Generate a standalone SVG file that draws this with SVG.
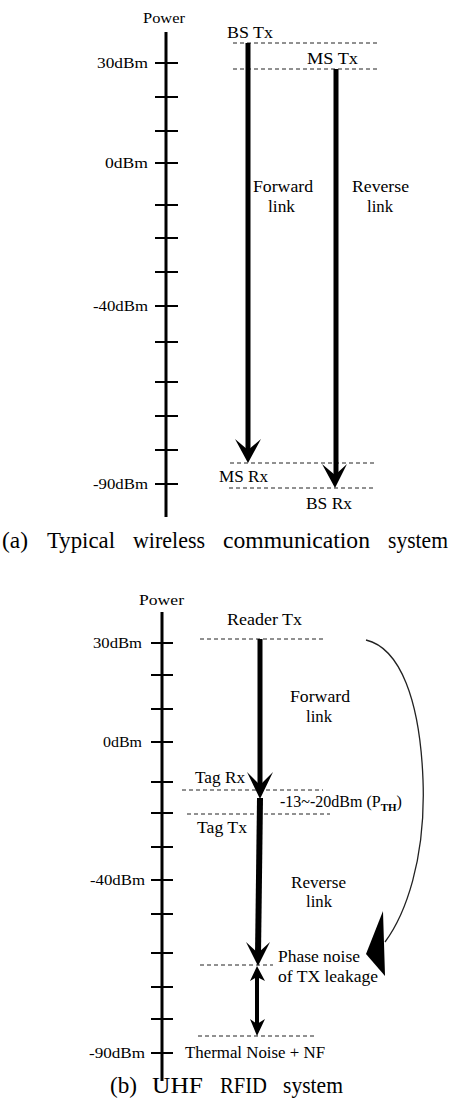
<svg xmlns="http://www.w3.org/2000/svg" width="452" height="1106" viewBox="0 0 452 1106">
<style>
text{font-family:"Liberation Serif","Times New Roman",serif;fill:#000}
.ax{font-size:15px}
.lb{font-size:16px}
.cap{font-size:23px}
.axis{stroke:#000;stroke-width:3;fill:none}
.tick{stroke:#000;stroke-width:2}
.dash{stroke:#222;stroke-width:1;stroke-dasharray:4 3;fill:none}
.shaft{stroke:#000;fill:none}
.head{fill:#000;stroke:none}
</style>
<rect width="452" height="1106" fill="#fff"/>

<!-- ===== (a) ===== -->
<g id="axis-a">
  <line class="axis" x1="166" y1="32" x2="166" y2="517"/>
  <g class="tick">
    <line x1="155" y1="63" x2="178" y2="63"/>
    <line x1="155" y1="97" x2="178" y2="97"/>
    <line x1="155" y1="131" x2="178" y2="131"/>
    <line x1="155" y1="163" x2="178" y2="163"/>
    <line x1="155" y1="205" x2="178" y2="205"/>
    <line x1="155" y1="238" x2="178" y2="238"/>
    <line x1="155" y1="272" x2="178" y2="272"/>
    <line x1="155" y1="306" x2="178" y2="306"/>
    <line x1="155" y1="342" x2="178" y2="342"/>
    <line x1="155" y1="382" x2="178" y2="382"/>
    <line x1="155" y1="416" x2="178" y2="416"/>
    <line x1="155" y1="450" x2="178" y2="450"/>
    <line x1="155" y1="484" x2="178" y2="484"/>
  </g>
  <text class="ax" x="143" y="23" textLength="42" lengthAdjust="spacingAndGlyphs">Power</text>
  <text class="ax" x="97" y="68" textLength="51" lengthAdjust="spacingAndGlyphs">30dBm</text>
  <text class="ax" x="105" y="168" textLength="43" lengthAdjust="spacingAndGlyphs">0dBm</text>
  <text class="ax" x="93" y="311" textLength="55" lengthAdjust="spacingAndGlyphs">-40dBm</text>
  <text class="ax" x="93" y="489" textLength="55" lengthAdjust="spacingAndGlyphs">-90dBm</text>
</g>

<g id="bs-tx"><text class="lb" x="227" y="38" textLength="46" lengthAdjust="spacingAndGlyphs">BS Tx</text></g>
<g id="ms-tx"><text class="lb" x="307" y="64" textLength="51" lengthAdjust="spacingAndGlyphs">MS Tx</text></g>
<g id="ms-rx"><text class="lb" x="219" y="482" textLength="49" lengthAdjust="spacingAndGlyphs">MS Rx</text></g>
<g id="bs-rx"><text class="lb" x="306" y="509" textLength="46" lengthAdjust="spacingAndGlyphs">BS Rx</text></g>
<g id="fwd-a">
  <text class="lb" x="253" y="192" textLength="60" lengthAdjust="spacingAndGlyphs">Forward</text>
  <text class="lb" x="268" y="212" textLength="27" lengthAdjust="spacingAndGlyphs">link</text>
</g>
<g id="rev-a">
  <text class="lb" x="352" y="192" textLength="57" lengthAdjust="spacingAndGlyphs">Reverse</text>
  <text class="lb" x="367" y="212" textLength="26" lengthAdjust="spacingAndGlyphs">link</text>
</g>

<g id="levels-a">
  <line class="dash" x1="233" y1="43" x2="378" y2="43"/>
  <line class="dash" x1="233" y1="69" x2="378" y2="69"/>
  <line class="dash" x1="230" y1="463" x2="375" y2="463"/>
  <line class="dash" x1="229" y1="488" x2="373" y2="488"/>
</g>

<g id="connectors-a">
  <line class="shaft" x1="248" y1="43" x2="248" y2="452" stroke-width="5"/>
  <path class="head" d="M248,463 L235,439 L248,450 L261,439 Z"/>
  <line class="shaft" x1="336" y1="69" x2="336" y2="477" stroke-width="5"/>
  <path class="head" d="M335,488 L322,464 L335,475 L347,464 Z"/>
</g>

<g id="caption-a">
  <text class="cap" x="2" y="548" textLength="26" lengthAdjust="spacingAndGlyphs">(a)</text>
  <text class="cap" x="47" y="548" textLength="68" lengthAdjust="spacingAndGlyphs">Typical</text>
  <text class="cap" x="133" y="548" textLength="72" lengthAdjust="spacingAndGlyphs">wireless</text>
  <text class="cap" x="223" y="548" textLength="147" lengthAdjust="spacingAndGlyphs">communication</text>
  <text class="cap" x="388" y="548" textLength="60" lengthAdjust="spacingAndGlyphs">system</text>
</g>

<!-- ===== (b) ===== -->
<g id="axis-b">
  <line class="axis" x1="162" y1="612" x2="162" y2="1081"/>
  <g class="tick">
    <line x1="151" y1="643" x2="173" y2="643"/>
    <line x1="151" y1="675" x2="173" y2="675"/>
    <line x1="151" y1="709" x2="173" y2="709"/>
    <line x1="151" y1="742" x2="173" y2="742"/>
    <line x1="151" y1="782" x2="173" y2="782"/>
    <line x1="151" y1="813" x2="173" y2="813"/>
    <line x1="151" y1="847" x2="173" y2="847"/>
    <line x1="151" y1="880" x2="173" y2="880"/>
    <line x1="151" y1="914" x2="173" y2="914"/>
    <line x1="151" y1="953" x2="173" y2="953"/>
    <line x1="151" y1="987" x2="173" y2="987"/>
    <line x1="151" y1="1019" x2="173" y2="1019"/>
    <line x1="151" y1="1053" x2="173" y2="1053"/>
  </g>
  <text class="ax" x="139" y="605" textLength="45" lengthAdjust="spacingAndGlyphs">Power</text>
  <text class="ax" x="93" y="648" textLength="49" lengthAdjust="spacingAndGlyphs">30dBm</text>
  <text class="ax" x="103" y="747" textLength="39" lengthAdjust="spacingAndGlyphs">0dBm</text>
  <text class="ax" x="90" y="885" textLength="55" lengthAdjust="spacingAndGlyphs">-40dBm</text>
  <text class="ax" x="89" y="1058" textLength="56" lengthAdjust="spacingAndGlyphs">-90dBm</text>
</g>

<g id="reader-tx"><text class="lb" x="227" y="625" textLength="75" lengthAdjust="spacingAndGlyphs">Reader Tx</text></g>
<g id="fwd-b">
  <text class="lb" x="290" y="702" textLength="60" lengthAdjust="spacingAndGlyphs">Forward</text>
  <text class="lb" x="306" y="722" textLength="26" lengthAdjust="spacingAndGlyphs">link</text>
</g>
<g id="tag-rx"><text class="lb" x="195" y="783" textLength="50" lengthAdjust="spacingAndGlyphs">Tag Rx</text></g>
<g id="pth"><text class="lb" x="280" y="807">-13~-20dBm (P<tspan font-size="11" font-weight="bold" dy="4">TH</tspan><tspan dy="-4">)</tspan></text></g>
<g id="tag-tx"><text class="lb" x="197" y="833" textLength="50" lengthAdjust="spacingAndGlyphs">Tag Tx</text></g>
<g id="rev-b">
  <text class="lb" x="291" y="888" textLength="55" lengthAdjust="spacingAndGlyphs">Reverse</text>
  <text class="lb" x="306" y="907" textLength="26" lengthAdjust="spacingAndGlyphs">link</text>
</g>
<g id="phase-noise">
  <text class="lb" x="278" y="962" textLength="82" lengthAdjust="spacingAndGlyphs">Phase noise</text>
  <text class="lb" x="278" y="982" textLength="100" lengthAdjust="spacingAndGlyphs">of TX leakage</text>
</g>
<g id="thermal"><text class="lb" x="185" y="1058" textLength="140" lengthAdjust="spacingAndGlyphs">Thermal Noise + NF</text></g>

<g id="levels-b">
  <line class="dash" x1="200" y1="639" x2="325" y2="639"/>
  <line class="dash" x1="182" y1="790" x2="323" y2="790"/>
  <line class="dash" x1="187" y1="814" x2="330" y2="814"/>
  <line class="dash" x1="200" y1="965" x2="273" y2="965"/>
  <line class="dash" x1="198" y1="1036" x2="315" y2="1036"/>
</g>

<g id="connectors-b">
  <line class="shaft" x1="260" y1="639" x2="260" y2="787" stroke-width="5"/>
  <path class="head" d="M260,799 L247,772 L260,785 L273,772 Z"/>
  <line class="shaft" x1="260" y1="798" x2="258" y2="955" stroke-width="6"/>
  <path class="head" d="M258,966 L246,942 L258,953 L270,942 Z"/>
  <line class="shaft" x1="257" y1="975" x2="257" y2="1026" stroke-width="4"/>
  <path class="head" d="M257,966 L250,981 L257,977 L265,981 Z"/>
  <path class="head" d="M257,1036 L250,1019 L257,1024 L265,1019 Z"/>
  <path d="M366,640 C400,648 420,700 423,780 C426,860 405,915 385,942" fill="none" stroke="#222" stroke-width="1.3"/>
  <path class="head" d="M383,911 L366,954 L385,976 Z"/>
</g>

<g id="caption-b">
  <text class="cap" x="110" y="1093" font-size="24" textLength="27" lengthAdjust="spacingAndGlyphs">(b)</text>
  <text class="cap" x="152" y="1093" font-size="24" textLength="51" lengthAdjust="spacingAndGlyphs">UHF</text>
  <text class="cap" x="220" y="1093" font-size="24" textLength="47" lengthAdjust="spacingAndGlyphs">RFID</text>
  <text class="cap" x="283" y="1093" font-size="24" textLength="60" lengthAdjust="spacingAndGlyphs">system</text>
</g>
</svg>
